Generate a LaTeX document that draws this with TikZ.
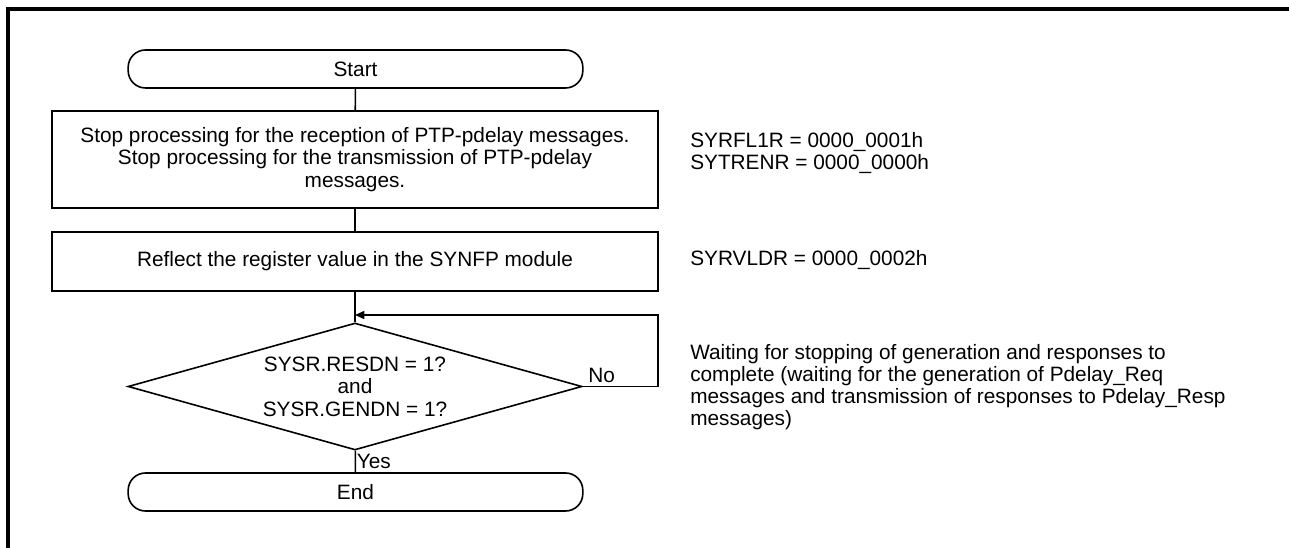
\documentclass[tikz,border=0pt]{standalone}
\usepackage{fontspec}
\setmainfont{Liberation Sans}
\usetikzlibrary{shapes.geometric,arrows.meta,calc}

\begin{document}
\begin{tikzpicture}[x=0.75pt, y=-0.75pt,
    font=\fontsize{15.6}{16.9}\selectfont,
    term/.style={draw, line width=1.2pt, minimum width=341pt, minimum height=28.5pt, rounded corners=13pt, inner sep=0pt},
    proc/.style={draw, line width=1.2pt, minimum width=454.5pt, align=center, inner sep=0pt},
    dec/.style={draw, diamond, aspect=3.5, line width=1.2pt, minimum width=340.5pt, minimum height=95.25pt, align=center, inner sep=0pt},
    note/.style={anchor=west, align=left, inner sep=0pt, font=\fontsize{15.6}{16.6}\selectfont},
    flow/.style={line width=1.2pt},
    flowarr/.style={line width=1.2pt, -{Triangle[length=7pt, width=6pt]}}
  ]
  \useasboundingbox (0,0) rectangle (1289,548);

  % Frame
  \draw[line width=2.5pt] (8,548) -- (8,9) -- (1289,9);

  % Start
  \node[term] (start) at (355.5, 69) {Start};

  % Stop reception and transmission
  \node[proc, minimum height=72.75pt] (stop) at (355, 159.5) {Stop processing for the reception of PTP-pdelay messages.\\Stop processing for the transmission of PTP-pdelay\\messages.};
  \draw[flow] (start) -- (stop);

  % Reflect register value
  \node[proc, minimum height=44.25pt] (refl) at (355, 261.5) {Reflect the register value in the SYNFP module};
  \draw[flow] (stop) -- (refl);

  % Wait for completion
  \node[dec] (done) at (355, 386.5) {SYSR.RESDN = 1?\\and\\SYSR.GENDN = 1?};
  \draw[flow] (refl) -- (done);
  \coordinate (join) at (355, 315);
  \coordinate (loop) at (658, 315);
  \draw[flowarr] (done.east) -| (loop) -- (join);
  \node[anchor=south west, inner sep=1pt, xshift=3pt, yshift=2pt] (no) at (done.east) {No};

  % End
  \node[term] (fin) at (355.5, 492) {End};
  \draw[flow] (done) -- (fin);
  \node[anchor=west, inner sep=1pt] (yes) at ($(done.south)!0.5!(fin.north)$) {Yes};

  % Register notes
  \node[note] (n1) at (690, 153) {SYRFL1R = 0000\_0001h\\SYTRENR = 0000\_0000h};
  \node[note] (n2) at (690, 260) {SYRVLDR = 0000\_0002h};
  \node[note] (n3) at (690, 387) {Waiting for stopping of generation and responses to\\complete (waiting for the generation of Pdelay\_Req\\messages and transmission of responses to Pdelay\_Resp\\messages)};

\end{tikzpicture}
\end{document}
